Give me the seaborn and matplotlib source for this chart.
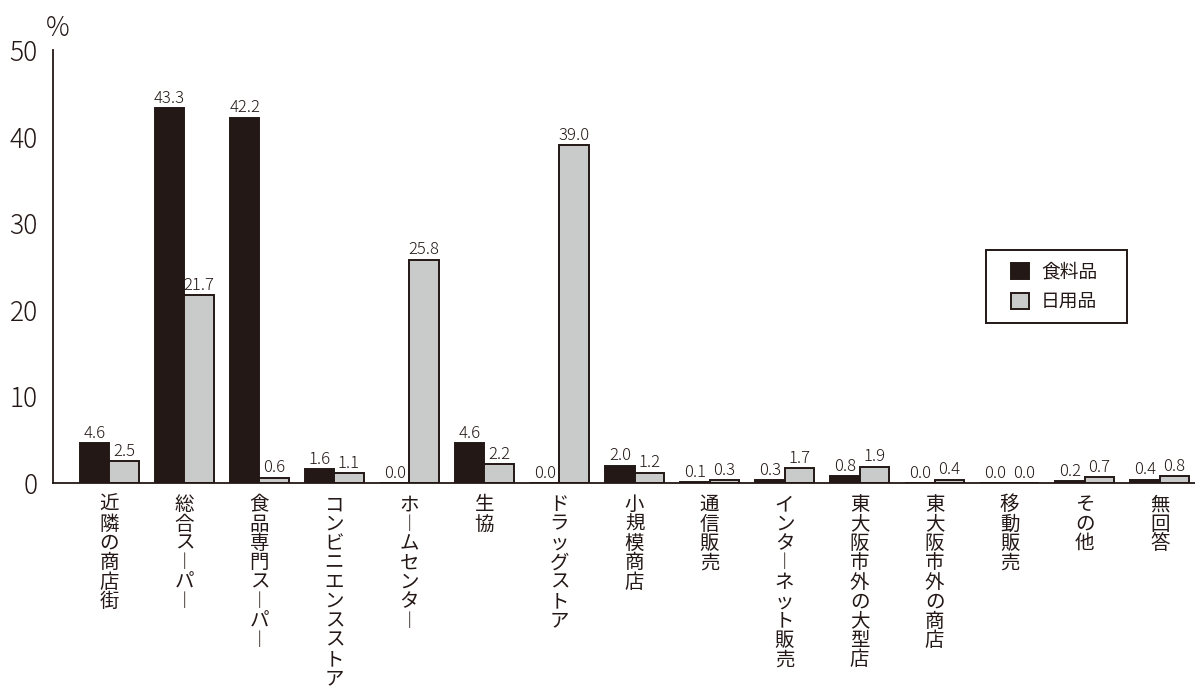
import matplotlib
matplotlib.use("Agg")
import matplotlib.pyplot as plt
import seaborn as sns
import pandas as pd
from matplotlib.patches import Patch, Rectangle

categories = ["近隣の商店街", "総合スーパー", "食品専門スーパー", "コンビニエンスストア",
              "ホームセンター", "生協", "ドラッグストア", "小規模商店", "通信販売",
              "インターネット販売", "東大阪市外の大型店", "東大阪市外の商店", "移動販売",
              "その他", "無回答"]
food = [4.6, 43.3, 42.2, 1.6, 0.0, 4.6, 0.0, 2.0, 0.1, 0.3, 0.8, 0.0, 0.0, 0.2, 0.4]
daily = [2.5, 21.7, 0.6, 1.1, 25.8, 2.2, 39.0, 1.2, 0.3, 1.7, 1.9, 0.4, 0.0, 0.7, 0.8]
series = ["食料品", "日用品"]
colors = ["#231815", "#c9caca"]
yticks = [0, 10, 20, 30, 40, 50]

ink = "#231815"

sns.set_theme(style="white")
plt.rcParams["font.family"] = ["Noto Sans CJK JP", "DejaVu Sans"]
num_kw = dict(family=["Noto Sans CJK JP", "DejaVu Sans"], fontweight="light")

df = pd.DataFrame({
    "cat": categories * 2,
    "val": food + daily,
    "series": [series[0]] * len(categories) + [series[1]] * len(categories),
})

fig = plt.figure(figsize=(11.95, 6.95), dpi=100)
ax = fig.add_axes([53 / 1195, 1 - 483 / 695, 1 - 53 / 1195, (483 - 50) / 695])

sns.barplot(data=df, x="cat", y="val", hue="series", hue_order=series,
            palette=colors, width=0.78, edgecolor=ink, linewidth=1.4,
            saturation=1, legend=False, ax=ax)

for cont in ax.containers:
    ax.bar_label(cont, fmt="%.1f", padding=1, fontsize=12, color=ink, **num_kw)

ax.set_ylim(0, 50)
ax.set_xlim(-0.75, 14.47)
ax.set_yticks(yticks)
ax.set_yticklabels([str(t) for t in yticks], fontsize=19, color=ink, **num_kw)
ax.tick_params(axis="y", direction="in", length=13, width=1.3, color=ink, pad=11)
ax.tick_params(axis="x", length=0, pad=8)


def vertical(text):
    return "\n".join("︱" if ch == "ー" else ch for ch in text)


ax.set_xticks(range(len(categories)))
ax.set_xticklabels([vertical(c) for c in categories], fontsize=14,
                   linespacing=0.9, va="top", color=ink)
ax.set_xlabel("")
ax.set_ylabel("")

for side in ["top", "right"]:
    ax.spines[side].set_visible(False)
for side in ["left", "bottom"]:
    ax.spines[side].set_color(ink)
    ax.spines[side].set_linewidth(1.3)

fig.text(58 / 1195, 1 - 28 / 695, "%", fontsize=19, color=ink,
         ha="center", va="center", **num_kw)

# legend: framed box drawn separately so its padding can be set per side
fig.patches.append(Rectangle((986 / 1195, 1 - 323 / 695), 141 / 1195, 73 / 695,
                             transform=fig.transFigure, facecolor="white",
                             edgecolor=ink, linewidth=1.4, zorder=5))
handles = [Patch(facecolor=c, edgecolor=ink, linewidth=1.4) for c in colors]
leg = fig.legend(handles, series, loc="center left",
                 bbox_to_anchor=(1011 / 1195, 1 - 287 / 695),
                 fontsize=13.5, frameon=False, handlelength=0.95,
                 handleheight=0.95, handletextpad=0.65, borderpad=0,
                 labelspacing=0.45, borderaxespad=0)
leg.set_zorder(6)
for t in leg.get_texts():
    t.set_color(ink)

fig.savefig("out.png", dpi=100)
